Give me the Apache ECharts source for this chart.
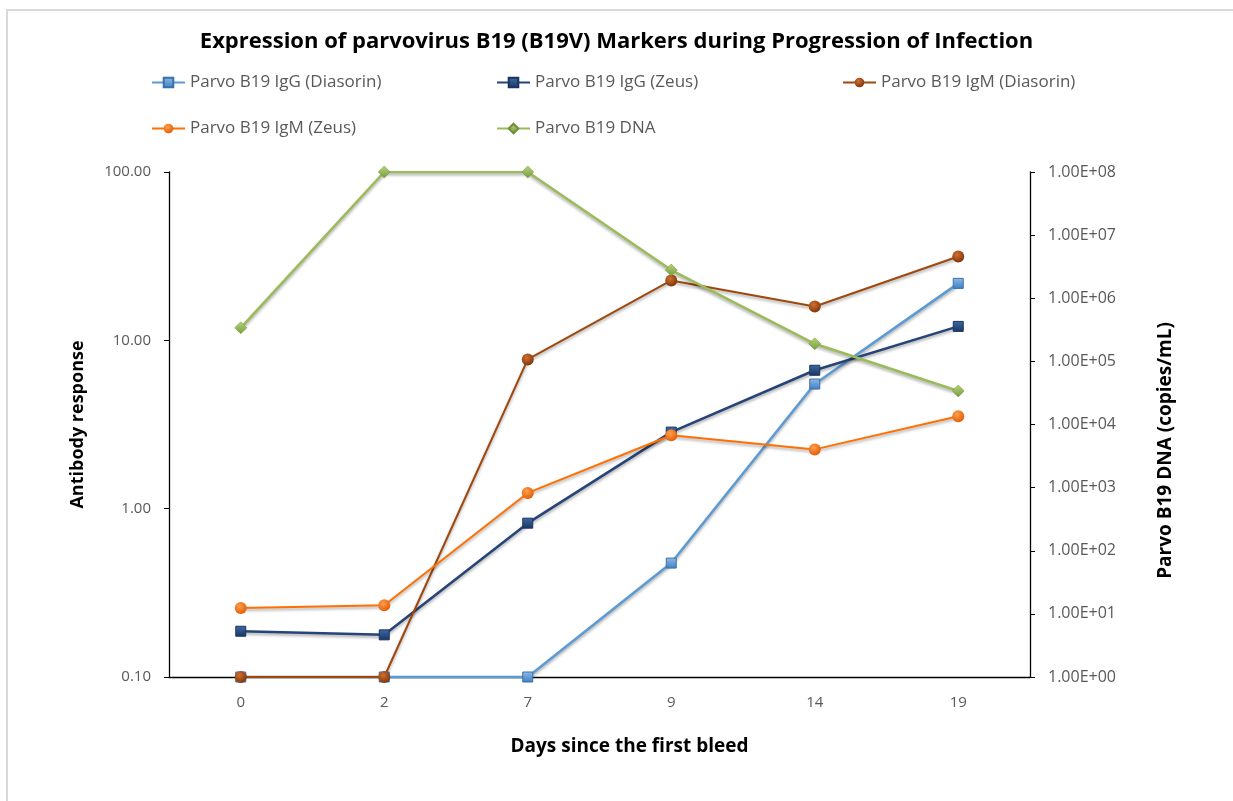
<!DOCTYPE html>
<html>
<head>
<meta charset="utf-8">
<title>Parvovirus B19 markers</title>
<script src="https://cdn.jsdelivr.net/npm/echarts@6/dist/echarts.min.js"></script>
<style>
  html, body { margin: 0; padding: 0; background: #fff; }
  #main { width: 1233px; height: 801px; }
</style>
</head>
<body>
<div id="main"></div>
<script>
// days since the first bleed
const days = ['0', '2', '7', '9', '14', '19'];

// antibody response (left axis, log)
const iggDiasorin = [0.1, 0.1, 0.1, 0.475, 5.5, 21.8];
const iggZeus = [0.187, 0.178, 0.82, 2.85, 6.64, 12.1];
const igmDiasorin = [0.1, 0.1, 7.7, 22.7, 15.9, 31.5];
const igmZeus = [0.257, 0.267, 1.24, 2.73, 2.25, 3.54];

// DNA copies/mL (right axis, log)
const dna = [3.4e5, 1e8, 1e8, 2.8e6, 1.9e5, 3.4e4];

const names = [
    'Parvo B19 IgG (Diasorin)',
    'Parvo B19 IgG (Zeus)',
    'Parvo B19 IgM (Diasorin)',
    'Parvo B19 IgM (Zeus)',
    'Parvo B19 DNA'
];

const font = 'Open Sans';
const shadow = { shadowColor: 'rgba(0,0,0,0.35)', shadowBlur: 3, shadowOffsetY: 2 };

// small gradients for the 3D-ish markers
function grad(light, dark) {
    return new echarts.graphic.LinearGradient(0, 0, 0, 1, [
        { offset: 0, color: light },
        { offset: 1, color: dark }
    ]);
}
function ball(light, dark) {
    return new echarts.graphic.RadialGradient(0.4, 0.35, 0.7, [
        { offset: 0, color: light },
        { offset: 1, color: dark }
    ]);
}

function sciLabel(v) {
    const e = Math.round(Math.log10(v));
    const sign = e < 0 ? '-' : '+';
    const abs = Math.abs(e);
    return '1.00E' + sign + (abs < 10 ? '0' + abs : abs);
}

function legendAt(name, left, top) {
    return {
        data: [name],
        left: left,
        top: top,
        itemWidth: 33,
        itemHeight: 12,
        itemGap: 4,
        textStyle: { fontFamily: font, fontSize: 17, color: '#595959' }
    };
}

const myChart = echarts.init(document.getElementById('main'));

const option = {
    backgroundColor: '#fff',
    animation: false,
    title: {
        text: 'Expression of parvovirus B19 (B19V) Markers during Progression of Infection',
        left: 'center',
        top: 26,
        textStyle: { fontFamily: font, fontSize: 22, fontWeight: 'bold', color: '#000' }
    },
    legend: [
        legendAt(names[0], 146, 69),
        legendAt(names[1], 491, 69),
        legendAt(names[2], 837, 69),
        legendAt(names[3], 146, 115),
        legendAt(names[4], 491, 115)
    ],
    graphic: [
        {
            type: 'polyline',
            shape: { points: [[7, 801], [7, 10], [1233, 10]] },
            style: { stroke: '#d9d9d9', lineWidth: 2, fill: null }
        }
    ],
    grid: { left: 169, right: 203, top: 172, bottom: 124 },
    xAxis: {
        type: 'category',
        data: days,
        boundaryGap: true,
        name: 'Days since the first bleed',
        nameLocation: 'middle',
        nameGap: 60,
        nameTextStyle: {
            fontFamily: font, fontSize: 19, fontWeight: 'bold', color: '#000',
            padding: [0, 0, 0, 60]
        },
        axisLine: { lineStyle: { color: '#000', width: 1.3 } },
        axisTick: { show: false },
        axisLabel: { fontFamily: font, fontSize: 15, color: '#595959', margin: 18 }
    },
    yAxis: [
        {
            type: 'log',
            logBase: 10,
            min: 0.1,
            max: 100,
            interval: 1,
            name: 'Antibody response',
            nameLocation: 'middle',
            nameGap: 82,
            nameTextStyle: { fontFamily: font, fontSize: 18, fontWeight: 'bold', color: '#000' },
            axisLine: { show: true, lineStyle: { color: '#000', width: 1.3 } },
            axisTick: { show: true, length: 5, lineStyle: { color: '#000' } },
            axisLabel: {
                fontFamily: font, fontSize: 15, color: '#595959', margin: 18,
                formatter: v => Number(v).toFixed(2)
            },
            splitLine: { show: false }
        },
        {
            type: 'log',
            logBase: 10,
            min: 1,
            max: 1e8,
            interval: 1,
            name: 'Parvo B19 DNA (copies/mL)',
            nameLocation: 'middle',
            nameGap: 126,
            nameRotate: 90,
            nameTextStyle: {
                fontFamily: font, fontSize: 19, fontWeight: 'bold', color: '#000',
                padding: [0, 52, 0, 0]
            },
            axisLine: { show: true, lineStyle: { color: '#000', width: 1.3 } },
            axisTick: { show: true, length: 5, lineStyle: { color: '#000' } },
            axisLabel: {
                fontFamily: font, fontSize: 16, color: '#595959', margin: 18,
                formatter: v => sciLabel(v)
            },
            splitLine: { show: false }
        }
    ],
    series: [
        {
            name: names[0],
            type: 'line',
            data: iggDiasorin,
            symbol: 'rect',
            symbolSize: 10,
            lineStyle: Object.assign({ color: '#5b9bd5', width: 2.5 }, shadow),
            itemStyle: { color: grad('#8dbbe8', '#3f7fc0'), borderColor: '#3a70a8', borderWidth: 1 },
            z: 3
        },
        {
            name: names[1],
            type: 'line',
            data: iggZeus,
            symbol: 'rect',
            symbolSize: 10,
            lineStyle: Object.assign({ color: '#264478', width: 2.5 }, shadow),
            itemStyle: { color: grad('#3d6aa8', '#1b3560'), borderColor: '#1b3560', borderWidth: 1 },
            z: 3
        },
        {
            name: names[2],
            type: 'line',
            data: igmDiasorin,
            symbol: 'circle',
            symbolSize: 12,
            lineStyle: Object.assign({ color: '#9e480e', width: 2 }, shadow),
            itemStyle: { color: ball('#d07030', '#7a3408') },
            z: 4
        },
        {
            name: names[3],
            type: 'line',
            data: igmZeus,
            symbol: 'circle',
            symbolSize: 12,
            lineStyle: Object.assign({ color: '#ff7000', width: 2 }, shadow),
            itemStyle: { color: ball('#ffa050', '#e05a00') },
            z: 4
        },
        {
            name: names[4],
            type: 'line',
            yAxisIndex: 1,
            data: dna,
            symbol: 'diamond',
            symbolSize: 12,
            lineStyle: Object.assign({ color: '#9bbb59', width: 2.5 }, shadow),
            itemStyle: { color: grad('#b5d57a', '#7a9a3e'), borderColor: '#6f8f38', borderWidth: 0.5 },
            z: 5
        }
    ]
};

myChart.setOption(option);
</script>
</body>
</html>
